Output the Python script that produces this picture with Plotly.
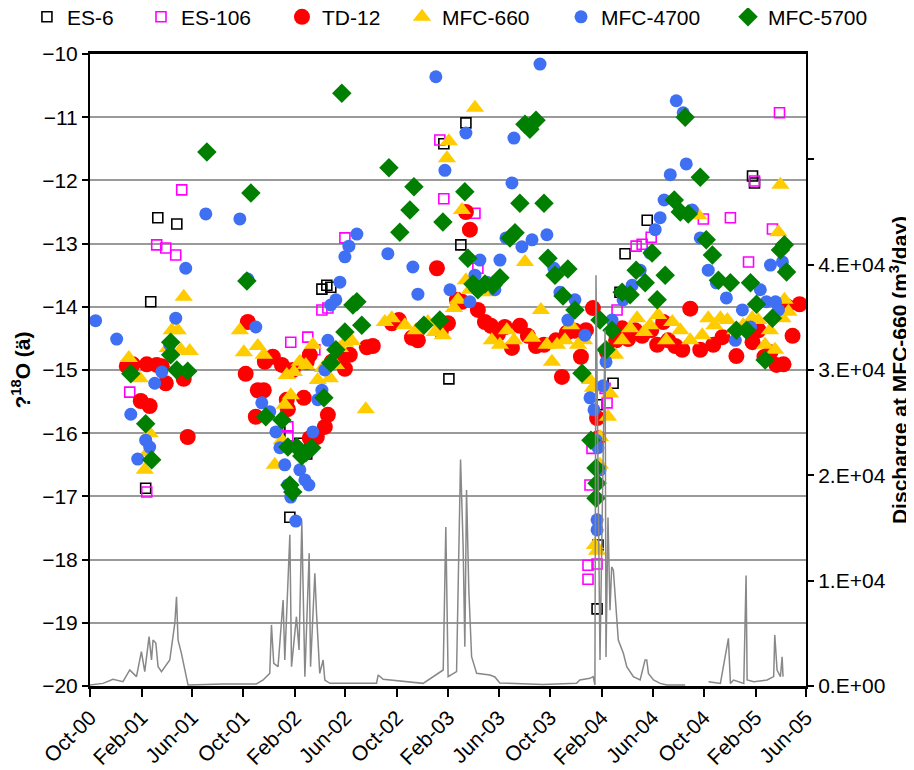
import pandas as pd
import plotly.graph_objects as go

# ---- data (decimal year, delta 18O) ----
es6_t = [2001.111, 2001.144, 2001.190, 2001.314, 2001.986, 2002.051, 2002.116, 2002.161, 2002.260, 2002.292,
         2002.318, 2003.055, 2003.088, 2003.166, 2003.199, 2004.054, 2004.060, 2004.054, 2004.158, 2004.203,
         2004.236, 2004.380, 2005.065, 2005.078]
es6_v = [-16.87, -13.92, -12.59, -12.69, -15.98, -17.33, -16.16, -16.33, -13.72, -13.66,
         -13.69, -11.42, -15.14, -13.02, -11.09, -18.78, -17.77, -15.55, -15.21, -13.77,
         -13.16, -12.63, -11.93, -12.04]

es106_t = [2001.007, 2001.118, 2001.183, 2001.242, 2001.307, 2001.346, 2002.038, 2002.038, 2002.057, 2002.168,
           2002.214, 2002.260, 2002.299, 2002.410, 2003.029, 2003.055, 2003.258, 2003.277, 2003.995, 2003.995,
           2004.054, 2004.008, 2004.021, 2004.119, 2004.106, 2004.184, 2004.308, 2004.347, 2004.406, 2004.745,
           2004.921, 2005.039, 2005.078, 2005.195, 2005.241]
es106_v = [-15.35, -16.93, -13.02, -13.07, -13.18, -12.15, -15.90, -16.04, -14.56, -14.48,
           -14.68, -14.05, -14.02, -12.91, -11.36, -12.29, -12.52, -13.39, -18.09, -18.31,
           -18.07, -16.82, -16.24, -15.52, -15.29, -14.05, -13.04, -13.01, -12.90, -12.61,
           -12.59, -13.29, -12.01, -12.77, -10.93]

td12_t = [2000.988, 2001.027, 2001.079, 2001.118, 2001.137, 2001.183, 2001.216, 2001.242, 2001.359, 2001.385,
          2001.763, 2001.777, 2001.829, 2001.842, 2001.881, 2001.888, 2001.940, 2001.999, 2002.031, 2002.038,
          2002.070, 2002.142, 2002.161, 2002.181, 2002.181, 2002.227, 2002.279, 2002.299, 2002.325, 2002.364,
          2002.410, 2002.442, 2002.553, 2002.592, 2002.716, 2002.762, 2002.847, 2002.886, 2003.010, 2003.036,
          2003.082, 2003.140, 2003.173, 2003.199, 2003.225, 2003.277, 2003.323, 2003.362, 2003.408, 2003.453,
          2003.499, 2003.551, 2003.603, 2003.656, 2003.708, 2003.786, 2003.825, 2003.858, 2003.910, 2003.949,
          2003.982, 2004.027, 2004.054, 2004.060, 2004.119, 2004.178, 2004.217, 2004.256, 2004.301, 2004.347,
          2004.406, 2004.445, 2004.484, 2004.517, 2004.562, 2004.608, 2004.660, 2004.725, 2004.810, 2004.869,
          2004.960, 2005.065, 2005.104, 2005.143, 2005.182, 2005.221, 2005.267, 2005.287, 2005.326, 2005.372]
td12_v = [-14.94, -14.91, -15.49, -14.91, -15.57, -14.92, -14.94, -15.21, -15.14, -16.06,
          -15.06, -14.24, -15.74, -15.32, -15.32, -14.87, -14.79, -14.92, -15.47, -15.62,
          -15.00, -15.44, -14.87, -14.76, -16.08, -16.06, -15.90, -15.71, -14.87, -14.81,
          -14.98, -14.76, -14.64, -14.62, -14.26, -14.21, -14.49, -14.53, -13.39, -14.38,
          -14.26, -13.89, -13.92, -12.50, -12.78, -14.05, -14.24, -14.30, -14.43, -14.32,
          -14.65, -14.30, -14.46, -14.62, -14.60, -14.53, -15.11, -14.41, -14.38, -14.79,
          -14.37, -14.02, -15.76, -16.08, -14.72, -14.53, -14.34, -14.51, -14.37, -14.46,
          -14.37, -14.60, -14.24, -14.53, -14.62, -14.68, -14.03, -14.68, -14.60, -14.48,
          -14.78, -14.56, -14.37, -14.79, -14.72, -14.92, -14.91, -13.99, -14.46, -13.96]

mfc660_t = [2001.001, 2001.072, 2001.105, 2001.124, 2001.137, 2001.255, 2001.281, 2001.320, 2001.340, 2001.359,
            2001.398, 2001.725, 2001.751, 2001.842, 2001.881, 2001.953, 2001.999, 2002.018, 2002.031, 2002.057,
            2002.077, 2002.116, 2002.155, 2002.201, 2002.233, 2002.266, 2002.312, 2002.351, 2002.377, 2002.410,
            2002.455, 2002.546, 2002.670, 2002.716, 2002.801, 2002.873, 2002.951, 2002.997, 2003.049, 2003.075,
            2003.088, 2003.121, 2003.147, 2003.173, 2003.199, 2003.225, 2003.258, 2003.290, 2003.336, 2003.368,
            2003.421, 2003.466, 2003.512, 2003.584, 2003.630, 2003.688, 2003.727, 2003.760, 2003.793, 2003.845,
            2003.884, 2003.930, 2003.969, 2004.008, 2004.027, 2004.040, 2004.054, 2004.073, 2004.073, 2004.125,
            2004.138, 2004.171, 2004.217, 2004.269, 2004.314, 2004.360, 2004.399, 2004.451, 2004.504, 2004.543,
            2004.595, 2004.660, 2004.712, 2004.738, 2004.777, 2004.817, 2004.856, 2004.901, 2004.953, 2005.004,
            2005.063, 2005.102, 2005.147, 2005.179, 2005.212, 2005.234, 2005.247, 2005.260, 2005.273, 2005.299]
mfc660_v = [-14.81, -15.13, -16.58, -16.30, -16.00, -14.65, -14.37, -14.37, -14.68, -13.84,
            -14.70, -14.37, -14.72, -14.62, -14.76, -16.50, -16.11, -15.55, -15.08, -15.40,
            -15.03, -14.87, -14.92, -14.60, -15.16, -14.97, -15.13, -14.92, -14.65, -14.57,
            -14.54, -15.62, -14.24, -14.18, -14.29, -14.37, -14.24, -14.40, -14.45, -11.65,
            -11.38, -14.02, -13.89, -12.47, -13.58, -13.73, -10.85, -13.73, -13.77, -14.53,
            -14.60, -14.37, -14.53, -13.29, -14.49, -14.05, -14.60, -14.87, -14.60, -14.53,
            -14.29, -14.60, -14.53, -15.16, -15.28, -17.77, -17.86, -16.50, -16.06, -15.74,
            -15.37, -14.76, -14.53, -14.34, -14.18, -14.40, -14.29, -14.13, -14.53, -14.24,
            -14.37, -14.53, -12.55, -14.45, -14.18, -14.29, -14.18, -14.21, -14.37, -14.29,
            -14.18, -14.21, -14.60, -14.37, -14.68, -12.82, -12.07, -14.18, -13.89, -14.08]

mfc4700_t = [2000.785, 2000.922, 2001.014, 2001.059, 2001.111, 2001.137, 2001.170, 2001.216, 2001.268, 2001.307,
             2001.372, 2001.503, 2001.725, 2001.777, 2001.829, 2001.868, 2001.920, 2001.960, 2001.986, 2002.018,
             2002.038, 2002.057, 2002.090, 2002.116, 2002.149, 2002.175, 2002.201, 2002.233, 2002.260, 2002.279,
             2002.299, 2002.318, 2002.351, 2002.377, 2002.410, 2002.436, 2002.488, 2002.690, 2002.853, 2002.886,
             2003.003, 2003.062, 2003.095, 2003.199, 2003.225, 2003.258, 2003.290, 2003.336, 2003.388, 2003.421,
             2003.460, 2003.499, 2003.512, 2003.564, 2003.630, 2003.682, 2003.727, 2003.773, 2003.812, 2003.864,
             2003.910, 2003.975, 2004.008, 2004.034, 2004.047, 2004.054, 2004.054, 2004.060, 2004.073, 2004.093,
             2004.112, 2004.151, 2004.223, 2004.282, 2004.334, 2004.399, 2004.432, 2004.464, 2004.490, 2004.530,
             2004.569, 2004.614, 2004.634, 2004.673, 2004.725, 2004.777, 2004.830, 2004.895, 2004.953, 2004.999,
             2005.052, 2005.116, 2005.156, 2005.182, 2005.215, 2005.234, 2005.260, 2005.280]
mfc4700_v = [-14.22, -14.51, -15.70, -16.41, -16.11, -16.22, -15.21, -15.03, -14.60, -14.18,
             -13.39, -12.53, -12.61, -13.56, -14.32, -15.52, -15.66, -15.98, -16.23, -16.50,
             -16.82, -17.01, -17.39, -16.58, -16.74, -16.82, -15.98, -15.47, -15.32, -15.00,
             -14.53, -13.97, -13.89, -13.61, -13.21, -13.04, -12.85, -13.16, -13.37, -13.80,
             -10.36, -11.84, -13.73, -11.25, -13.92, -13.50, -13.26, -13.61, -13.73, -13.26,
             -12.91, -12.04, -11.33, -13.05, -12.94, -10.16, -12.86, -13.39, -13.77, -14.21,
             -13.89, -14.45, -15.44, -15.63, -16.11, -17.37, -17.53, -16.23, -16.58, -15.25,
             -14.87, -14.21, -13.89, -13.66, -13.42, -13.15, -12.78, -12.59, -12.31, -11.91,
             -10.74, -10.93, -11.74, -12.47, -12.91, -13.42, -13.62, -13.86, -14.53, -14.05,
             -14.32, -13.73, -13.92, -13.34, -13.92, -14.05, -13.29, -13.42]

mfc5700_t = [2001.014, 2001.111, 2001.150, 2001.274, 2001.274, 2001.314, 2001.385, 2001.510, 2001.797, 2001.771,
             2001.894, 2001.999, 2002.038, 2002.051, 2002.070, 2002.096, 2002.129, 2002.155, 2002.194, 2002.273,
             2002.318, 2002.351, 2002.410, 2002.462, 2002.488, 2002.520, 2002.390, 2002.697, 2002.768, 2002.834,
             2002.860, 2002.925, 2003.029, 2003.049, 2003.192, 2003.212, 2003.245, 2003.277, 2003.323, 2003.375,
             2003.421, 2003.486, 2003.519, 2003.551, 2003.584, 2003.616, 2003.656, 2003.708, 2003.734, 2003.780,
             2003.832, 2003.864, 2003.910, 2003.956, 2004.014, 2004.047, 2004.054, 2004.047, 2004.073, 2004.112,
             2004.151, 2004.217, 2004.269, 2004.308, 2004.367, 2004.412, 2004.445, 2004.497, 2004.556, 2004.595,
             2004.627, 2004.647, 2004.725, 2004.764, 2004.804, 2004.843, 2004.921, 2004.960, 2005.026, 2005.052,
             2005.091, 2005.147, 2005.195, 2005.247, 2005.273, 2005.287]
mfc5700_v = [-15.06, -15.85, -16.42, -14.56, -14.76, -15.00, -15.02, -11.55, -12.20, -13.59,
             -15.74, -15.79, -16.22, -16.82, -16.93, -16.22, -16.36, -16.31, -16.23, -15.44,
             -14.89, -14.68, -14.40, -13.97, -13.92, -14.29, -10.62, -11.80, -12.82, -12.47,
             -12.10, -14.29, -14.21, -12.66, -12.18, -13.23, -13.64, -13.73, -13.64, -13.66,
             -13.54, -12.91, -12.83, -12.36, -11.11, -11.19, -11.05, -12.36, -13.23, -13.50,
             -13.83, -13.40, -14.05, -15.05, -16.11, -16.55, -16.79, -17.03, -14.21, -14.68,
             -14.37, -13.77, -13.81, -13.42, -13.62, -13.15, -13.89, -13.50, -12.31, -12.50,
             -11.00, -12.53, -11.95, -12.94, -13.18, -13.58, -13.62, -14.37, -14.37, -13.62,
             -13.96, -14.84, -14.18, -13.10, -13.02, -13.45]

# discharge at MFC-660 (m3/day), decimal year
q_t = [2000.746, 2000.833, 2000.898, 2000.963, 2001.007, 2001.051, 2001.083, 2001.105, 2001.133, 2001.149,
       2001.159, 2001.177, 2001.192, 2001.214, 2001.268, 2001.301, 2001.312, 2001.322, 2001.344, 2001.366,
       2001.387, 2001.616, 2001.833, 2001.877, 2001.920, 2001.931, 2001.946, 2001.974, 2002.007, 2002.018,
       2002.051, 2002.062, 2002.094, 2002.111, 2002.129, 2002.149, 2002.177, 2002.186, 2002.214, 2002.225,
       2002.246, 2002.268, 2002.279, 2002.312, 2002.616, 2002.627, 2002.659, 2002.920, 2002.986, 2003.051,
       2003.068, 2003.083, 2003.138, 2003.164, 2003.181, 2003.192, 2003.203, 2003.218, 2003.236, 2003.269,
       2003.355, 2003.388, 2003.420, 2003.700, 2003.920, 2003.942, 2004.008, 2004.029, 2004.040, 2004.047,
       2004.073, 2004.106, 2004.112, 2004.125, 2004.138, 2004.149, 2004.160, 2004.171, 2004.192, 2004.225,
       2004.247, 2004.290, 2004.334, 2004.366, 2004.377, 2004.388, 2004.421, 2004.464, 2004.508, 2004.627,
       None,
       2004.779, 2004.856, 2004.908, 2004.921, 2004.942, 2005.008, 2005.023, 2005.030, 2005.073, 2005.160,
       2005.203, 2005.210, 2005.225, 2005.247, 2005.258, 2005.264]
q_v = [100, 250, 640, 410, 1520, 890, 3260, 1360, 4690, 2470,
       4370, 4080, 1840, 1360, 2470, 5960, 8480, 4370, 3100, 1520,
       100, 190, 190, 570, 1200, 5800, 2160, 1840, 8170, 2470,
       14350, 1840, 6580, 3420, 15600, 890, 12600, 1840, 10700, 6900,
       1200, 2470, 570, 250, 250, 1050, 640, 250, 890, 1520,
       15100, 890, 1360, 21500, 13200, 3730, 18600, 9120, 2780, 1200,
       1050, 860, 290, 150, 250, 570, 730, 890, 100, 39000,
       2470, 33800, 2750, 16000, 7200, 11300, 11000, 8480, 4370, 3100,
       1840, 890, 570, 2470, 2470, 1200, 570, 250, 100, 100,
       None,
       410, 250, 4530, 250, 570, 250, 10500, 570, 410, 570,
       890, 4850, 1520, 890, 2780, 890]

x_ticks = ["2000-10-01", "2001-02-01", "2001-06-01", "2001-10-01", "2002-02-01", "2002-06-01", "2002-10-01",
           "2003-02-01", "2003-06-01", "2003-10-01", "2004-02-01", "2004-06-01", "2004-10-01", "2005-02-01",
           "2005-06-01"]
x_tick_labels = ["Oct-00", "Feb-01", "Jun-01", "Oct-01", "Feb-02", "Jun-02", "Oct-02", "Feb-03", "Jun-03",
                 "Oct-03", "Feb-04", "Jun-04", "Oct-04", "Feb-05", "Jun-05"]
y2_ticks = [0, 10000, 20000, 30000, 40000, 50000]
y2_tick_labels = ["0.E+00", "1.E+04", "2.E+04", "3.E+04", "4.E+04", " "]


def to_date(ts):
    out = []
    for t in ts:
        if t is None:
            out.append(None)
            continue
        y = int(t)
        start = pd.Timestamp(year=y, month=1, day=1)
        end = pd.Timestamp(year=y + 1, month=1, day=1)
        out.append(start + (end - start) * (t - y))
    return out


FONT = "Liberation Sans, Arial, sans-serif"
FS = 21
W, H = 906, 762          # page body adds an 8px offset; plot box lands at x 90-806, y 54-686
fig = go.Figure()

series = [
    ("ES-6", es6_t, es6_v, dict(symbol="square-open", size=10, color="black", line=dict(width=1.6, color="black"))),
    ("ES-106", es106_t, es106_v, dict(symbol="square-open", size=10, color="#FF00FF", line=dict(width=1.6, color="#FF00FF"))),
    ("TD-12", td12_t, td12_v, dict(symbol="circle", size=16, color="#FF0000", line=dict(width=0))),
    ("MFC-660", mfc660_t, mfc660_v, dict(symbol="triangle-up", size=16, color="#FFCC00", line=dict(width=0))),
    ("MFC-4700", mfc4700_t, mfc4700_v, dict(symbol="circle", size=13, color="#3F6FF2", line=dict(width=0))),
    ("MFC-5700", mfc5700_t, mfc5700_v, dict(symbol="diamond", size=15, color="#007F00", line=dict(width=0))),
]
legend_x = [0.0209, 0.1468, 0.3024, 0.4349, 0.6104, 0.7947]
legend_layout = {}
for i, (name, t, v, mk) in enumerate(series):
    key = "legend" if i == 0 else f"legend{i + 1}"
    fig.add_trace(go.Scatter(x=to_date(t), y=v, mode="markers", name=name, marker=mk,
                             cliponaxis=False, legend=key))
    legend_layout[key] = dict(orientation="h", xref="container", yref="container", x=legend_x[i],
                              xanchor="left", y=0.988, yanchor="middle", font=dict(size=FS),
                              itemwidth=30, bgcolor="rgba(0,0,0,0)")

fig.add_trace(go.Scatter(x=to_date(q_t), y=q_v, mode="lines", yaxis="y2", showlegend=False,
                         line=dict(color="#888888", width=1.5), connectgaps=False))

fig.update_layout(
    width=W, height=H,
    margin=dict(l=82, r=108, t=46, b=84),
    paper_bgcolor="white", plot_bgcolor="white",
    font=dict(family=FONT, size=FS, color="black"),
    showlegend=True,
    xaxis=dict(type="date", range=["2000-10-01", "2005-06-01"], tickvals=x_ticks, ticktext=x_tick_labels,
               tickangle=-45, ticks="outside", ticklen=8, tickwidth=1.5, tickcolor="black",
               showline=True, linecolor="black", linewidth=3, mirror=True, showgrid=False, zeroline=False,
               tickfont=dict(size=FS), automargin=False),
    yaxis=dict(range=[-20, -10], dtick=1, ticks="outside", ticklen=6, tickwidth=1.5, tickcolor="black",
               showline=True, linecolor="black", linewidth=2, showgrid=True, gridcolor="#9a9a9a", gridwidth=1.8,
               zeroline=False, tickfont=dict(size=FS), automargin=False,
               title=dict(text="<b>?<sup>18</sup>O (ä)</b>", font=dict(size=FS), standoff=20)),
    yaxis2=dict(range=[0, 60000], overlaying="y", side="right", tickvals=y2_ticks, ticktext=y2_tick_labels,
                ticks="outside", ticklen=6, tickwidth=1.5, tickcolor="black", showline=True, linecolor="black",
                linewidth=2, showgrid=False, zeroline=False, tickfont=dict(size=FS), automargin=False,
                title=dict(text="<b>Discharge at MFC-660 (m<sup>3</sup>/day)</b>", font=dict(size=FS), standoff=2)),
    **legend_layout,
)

fig.write_html("out.html")
